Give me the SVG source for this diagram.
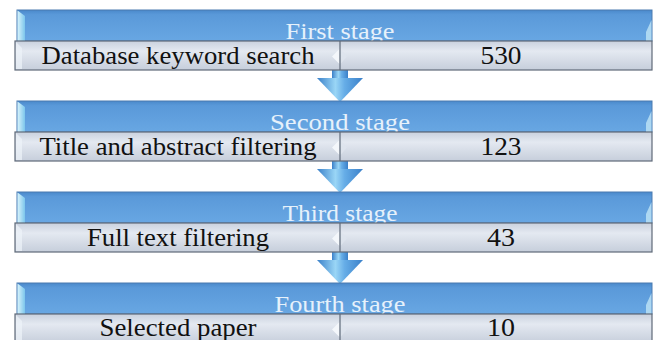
<svg xmlns="http://www.w3.org/2000/svg" width="654" height="340" viewBox="0 0 654 340">
<defs>
<linearGradient id="hdr" x1="0" y1="0" x2="0" y2="1">
<stop offset="0" stop-color="#4a89cb"/>
<stop offset="0.15" stop-color="#5a99d9"/>
<stop offset="1" stop-color="#68a7e3"/>
</linearGradient>
<linearGradient id="row" x1="0" y1="0" x2="0" y2="1">
<stop offset="0" stop-color="#c9d1de"/>
<stop offset="0.35" stop-color="#e4e9f1"/>
<stop offset="1" stop-color="#c6cedb"/>
</linearGradient>
<linearGradient id="arw" x1="0" y1="0" x2="1" y2="0">
<stop offset="0" stop-color="#3a80c9"/>
<stop offset="0.4" stop-color="#9ad6f6"/>
<stop offset="0.6" stop-color="#66ade7"/>
<stop offset="1" stop-color="#3a80c9"/>
</linearGradient>
<linearGradient id="bev" x1="0" y1="0" x2="1" y2="0">
<stop offset="0" stop-color="#d8f3fb"/>
<stop offset="1" stop-color="#7cc6ec"/>
</linearGradient>
<g id="stage">
<rect x="17" y="0" width="635" height="31" fill="url(#hdr)" stroke="#4a7bb0" stroke-width="1"/>
<polygon points="17.5,0.5 25,6 25,31 17.5,31" fill="url(#bev)"/>
<polygon points="651.5,10 646,22 646,31 651.5,31" fill="#bfe5f6" opacity="0.8"/>
</g>
<g id="rowbox">
<rect x="15" y="31" width="637" height="29" fill="url(#row)" stroke="#5f6a79" stroke-width="1.2"/>
<polygon points="16,32 22,38 22,59 16,59" fill="#eef3f9" opacity="0.7"/>
<polygon points="339.5,39 332,46.5 339.5,54" fill="#f4f7fb"/>
<polygon points="340.5,39 347,46.5 340.5,54" fill="#dfe5ee" opacity="0.8"/>
<line x1="340" y1="31" x2="340" y2="60" stroke="#5f6a79" stroke-width="1.2"/>
</g>
<g id="arrow">
<rect x="332" y="0" width="16" height="9" fill="url(#arw)"/>
<polygon points="317,8 363,8 340,32" fill="url(#arw)"/>
</g>
</defs>
<style>
.h{font-family:"Liberation Serif","Times New Roman",serif;font-size:23px;fill:#e6f1fb;text-anchor:middle}
.t{font-family:"Liberation Serif","Times New Roman",serif;font-size:25px;fill:#111111;text-anchor:middle}
</style>
<g id="connectors">
<use href="#arrow" x="0" y="70"/>
<use href="#arrow" x="0" y="161"/>
<use href="#arrow" x="0" y="252"/>
</g>
<g id="stage1">
<use href="#stage" x="0" y="10"/>
<text class="h" x="340" y="39" textLength="109" lengthAdjust="spacingAndGlyphs">First stage</text>
<use href="#rowbox" x="0" y="10"/>
<text class="t" x="178" y="64" textLength="273" lengthAdjust="spacingAndGlyphs">Database keyword search</text>
<text class="t" x="501" y="64" textLength="41" lengthAdjust="spacingAndGlyphs">530</text>
</g>
<g id="stage2">
<use href="#stage" x="0" y="101"/>
<text class="h" x="340" y="130" textLength="140" lengthAdjust="spacingAndGlyphs">Second stage</text>
<use href="#rowbox" x="0" y="101"/>
<text class="t" x="178" y="155" textLength="277" lengthAdjust="spacingAndGlyphs">Title and abstract filtering</text>
<text class="t" x="501" y="155" textLength="41" lengthAdjust="spacingAndGlyphs">123</text>
</g>
<g id="stage3">
<use href="#stage" x="0" y="192"/>
<text class="h" x="340" y="221" textLength="115" lengthAdjust="spacingAndGlyphs">Third stage</text>
<use href="#rowbox" x="0" y="192"/>
<text class="t" x="178" y="246" textLength="182" lengthAdjust="spacingAndGlyphs">Full text filtering</text>
<text class="t" x="501" y="246" textLength="28" lengthAdjust="spacingAndGlyphs">43</text>
</g>
<g id="stage4">
<use href="#stage" x="0" y="283"/>
<text class="h" x="340" y="312" textLength="131" lengthAdjust="spacingAndGlyphs">Fourth stage</text>
<use href="#rowbox" x="0" y="283"/>
<text class="t" x="178" y="336" textLength="157" lengthAdjust="spacingAndGlyphs">Selected paper</text>
<text class="t" x="501" y="336" textLength="28" lengthAdjust="spacingAndGlyphs">10</text>
</g>
</svg>
